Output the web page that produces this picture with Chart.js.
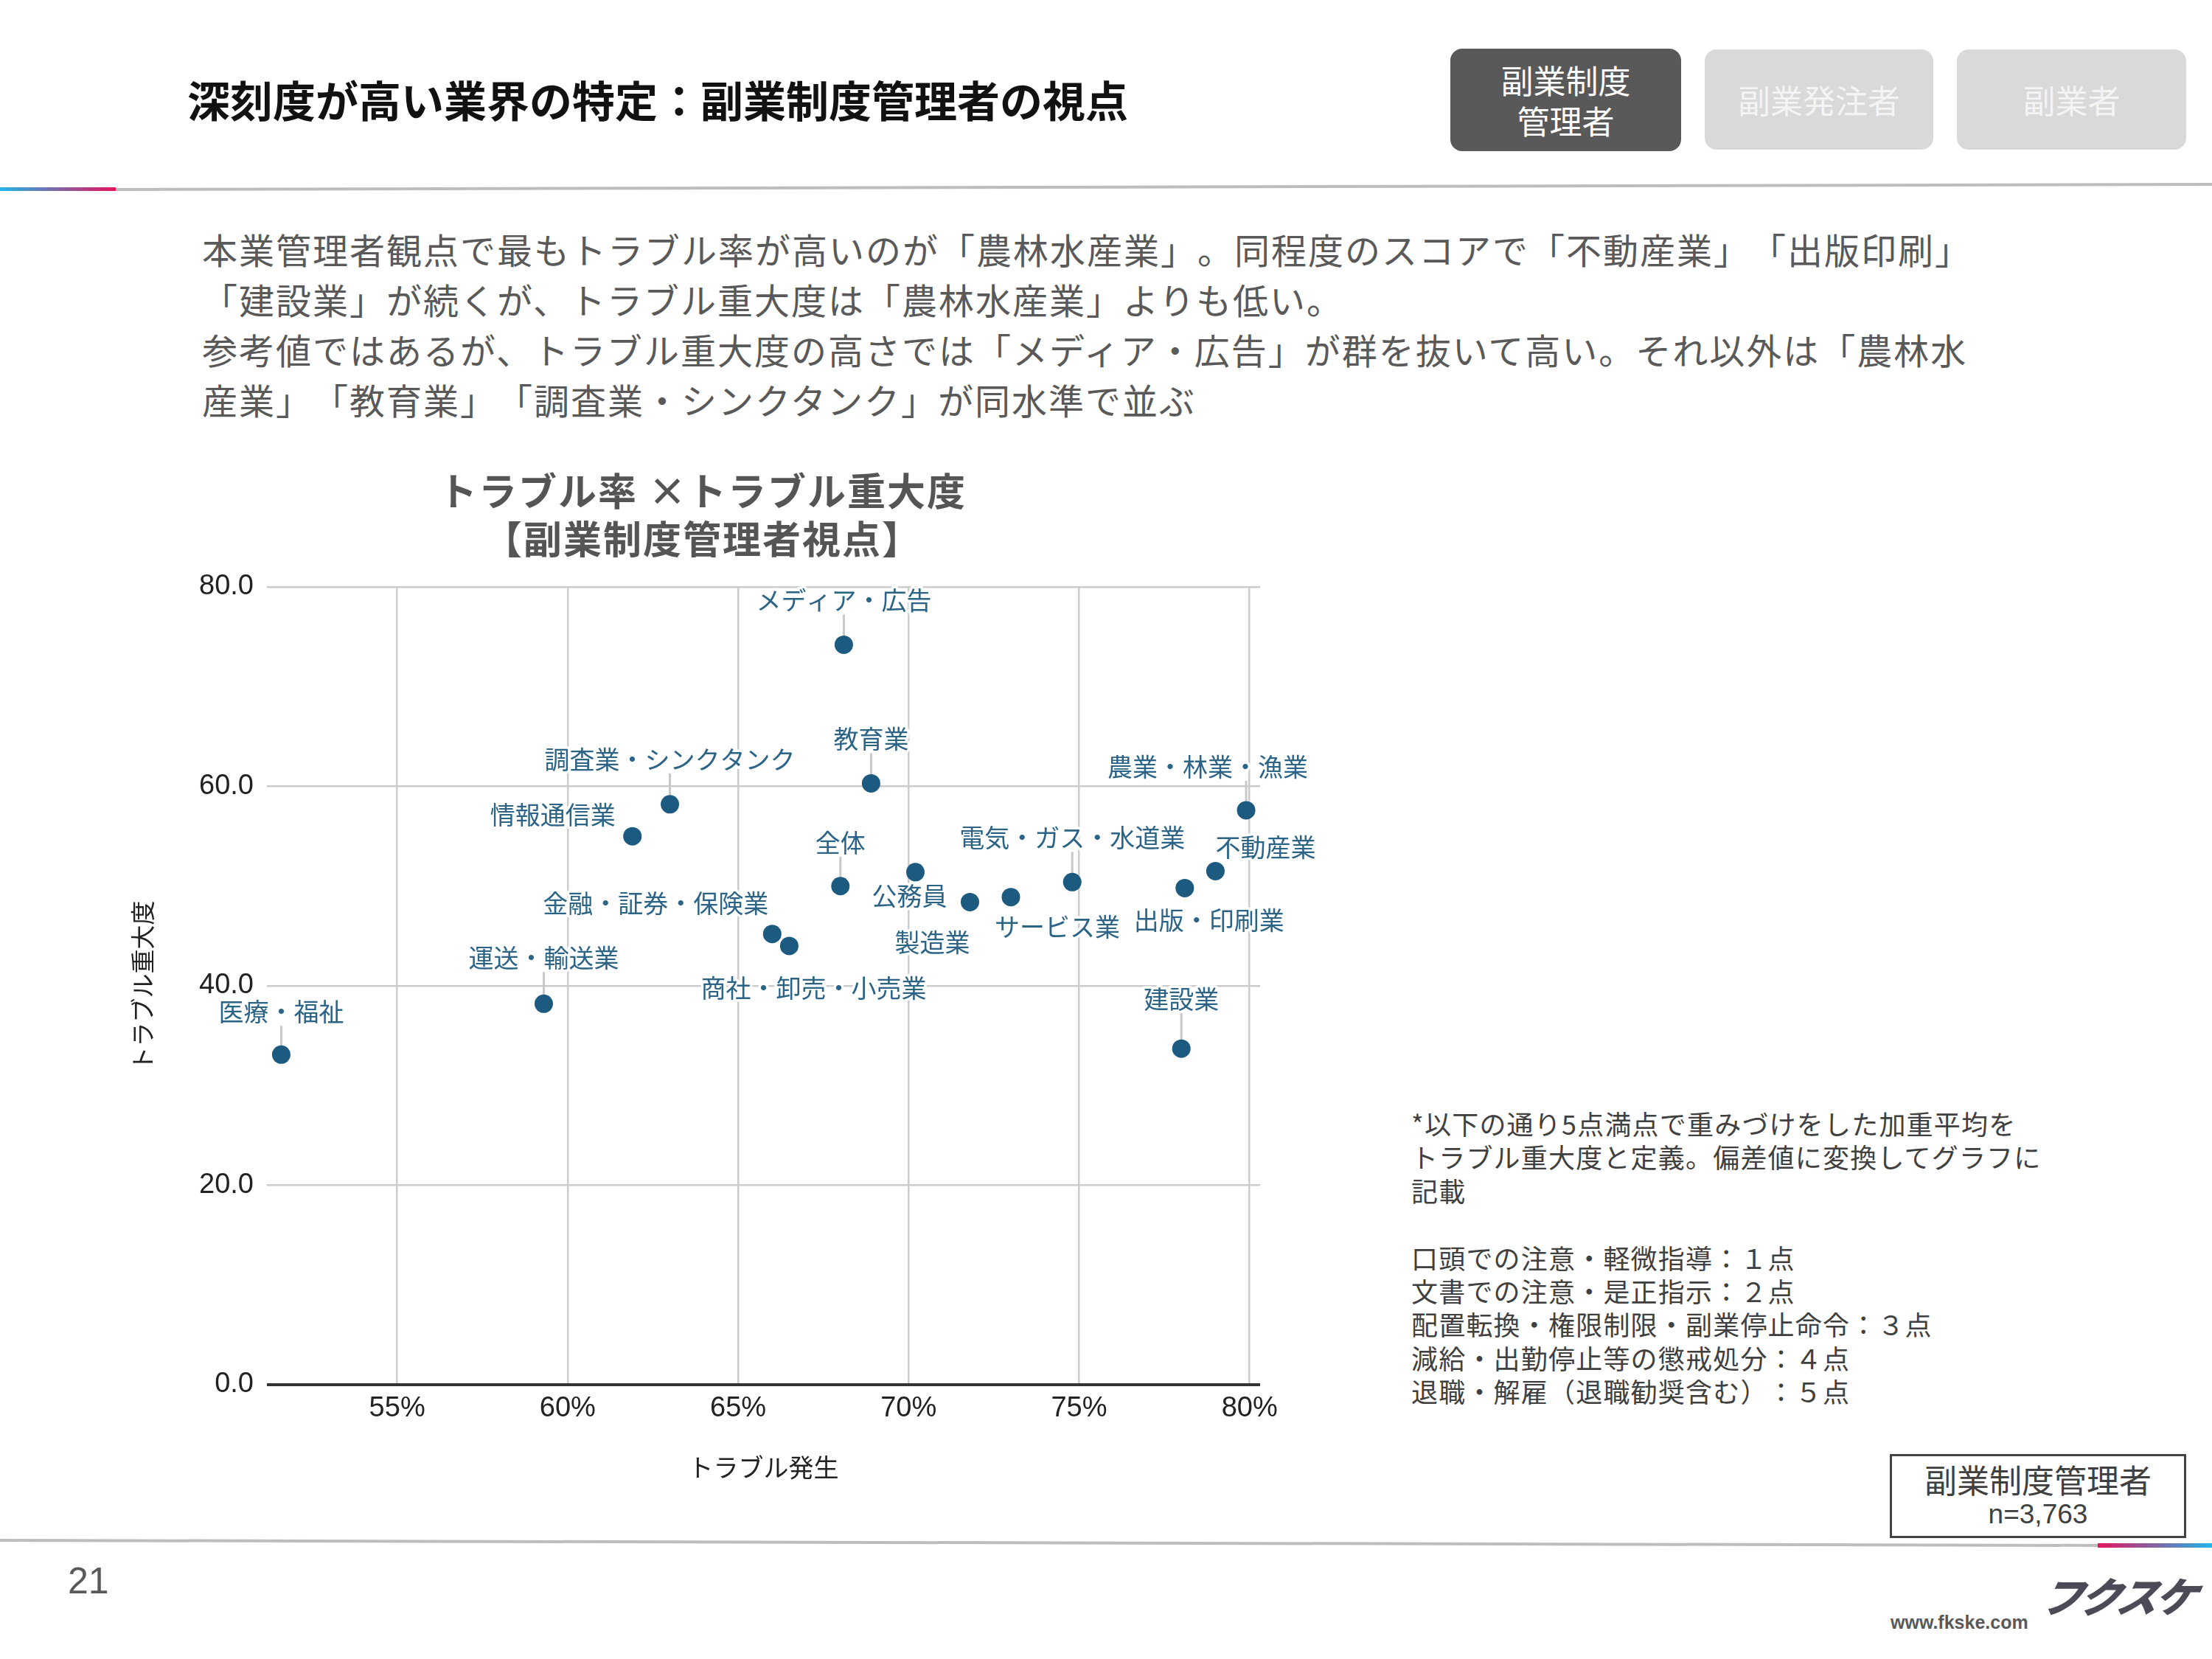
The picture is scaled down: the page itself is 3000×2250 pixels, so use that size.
<!DOCTYPE html>
<html><head><meta charset="utf-8">
<script src="https://cdn.jsdelivr.net/npm/chart.js@4.4.1/dist/chart.umd.min.js"></script>
<style>
html,body{margin:0;padding:0;background:#fff;}
body{width:3000px;height:2250px;position:relative;overflow:hidden;font-family:"Noto Sans CJK JP","Noto Sans",sans-serif;text-spacing-trim:space-all;}
.abs{position:absolute;white-space:nowrap;}
.tab{position:absolute;border-radius:16px;display:flex;flex-direction:column;align-items:center;justify-content:center;font-size:44px;line-height:55px;}
#title{left:254px;top:100px;font-size:58px;font-weight:700;color:#111;line-height:68px;}
#body{left:274px;top:303px;font-size:48px;letter-spacing:2px;line-height:68px;color:#595959;}
#ctitle{left:453px;top:631px;width:1000px;text-align:center;font-size:52px;letter-spacing:2px;font-weight:700;line-height:65px;color:#555;}
#note{left:1914px;top:1501px;font-size:36px;letter-spacing:1.2px;line-height:45.4px;color:#404040;}
#box{left:2563px;top:1972px;width:396px;height:108px;border:3px solid #444;text-align:center;color:#404040;}
#chartwrap{left:150px;top:700px;width:1650px;height:1330px;}
</style></head><body>
<svg class="abs" style="left:0;top:0" width="3000" height="2250">
  <defs>
    <linearGradient id="g1" x1="0" x2="1" y1="0" y2="0"><stop offset="0" stop-color="#1fb6e9"/><stop offset="1" stop-color="#e5135e"/></linearGradient>
    <linearGradient id="g2" x1="0" x2="1" y1="0" y2="0"><stop offset="0" stop-color="#e5135e"/><stop offset="1" stop-color="#1fb6e9"/></linearGradient>
  </defs>
  <polygon points="157,255 3000,248 3000,252 157,259" fill="#bdbdbd"/>
  <rect x="0" y="254" width="157" height="5" fill="url(#g1)"/>
  <polygon points="0,2087 2845,2094 2845,2098 0,2091" fill="#bdbdbd"/>
  <rect x="2845" y="2093" width="155" height="6" fill="url(#g2)"/>
</svg>
<div id="title" class="abs">深刻度が高い業界の特定：副業制度管理者の視点</div>
<div class="tab" style="left:1967px;top:66px;width:313px;height:139px;background:#595959;color:#fff;"><div>副業制度</div><div>管理者</div></div>
<div class="tab" style="left:2312px;top:67px;width:310px;height:136px;background:#d9d9d9;color:#f4f4f4;"><div>副業発注者</div></div>
<div class="tab" style="left:2654px;top:67px;width:311px;height:136px;background:#d9d9d9;color:#f4f4f4;"><div>副業者</div></div>
<div id="body" class="abs">本業管理者観点で最もトラブル率が高いのが「農林水産業」。同程度のスコアで「不動産業」「出版印刷」<br>「建設業」が続くが、トラブル重大度は「農林水産業」よりも低い。<br>参考値ではあるが、トラブル重大度の高さでは「メディア・広告」が群を抜いて高い。それ以外は「農林水<br>産業」「教育業」「調査業・シンクタンク」が同水準で並ぶ</div>
<div id="ctitle" class="abs">トラブル率 ×トラブル重大度<br>【副業制度管理者視点】</div>
<div id="chartwrap" class="abs"><canvas id="c" width="1650" height="1330"></canvas></div>
<div id="note" class="abs">*以下の通り5点満点で重みづけをした加重平均を<br>トラブル重大度と定義。偏差値に変換してグラフに<br>記載<br><br>口頭での注意・軽微指導：１点<br>文書での注意・是正指示：２点<br>配置転換・権限制限・副業停止命令：３点<br>減給・出勤停止等の懲戒処分：４点<br>退職・解雇（退職勧奨含む）：５点</div>
<div id="box" class="abs"><div style="font-size:44px;line-height:50px;margin-top:6px;">副業制度管理者</div><div style="font-family:'Liberation Sans',Arial,sans-serif;font-size:37px;line-height:46px;">n=3,763</div></div>
<div class="abs" style="left:92px;top:2114px;font-family:'Liberation Sans',Arial,sans-serif;font-size:50px;line-height:60px;color:#595959;">21</div>
<div class="abs" style="left:2770px;top:2128px;font-size:56px;font-weight:900;font-style:italic;line-height:70px;color:#4a4b57;transform:skewX(-12deg);letter-spacing:-4px;">フクスケ</div>
<div class="abs" style="left:2564px;top:2184px;font-family:'Liberation Sans',Arial,sans-serif;font-size:25px;font-weight:700;line-height:32px;color:#595959;">www.fkske.com</div>
<script>
const categories = ['医療・福祉','運送・輸送業','金融・証券・保険業','商社・卸売・小売業','情報通信業','調査業・シンクタンク','メディア・広告','教育業','全体','公務員','製造業','サービス業','電気・ガス・水道業','出版・印刷業','不動産業','農業・林業・漁業','建設業'];
const troubleRate = [51.6, 59.3, 66.0, 66.5, 61.9, 63.0, 68.1, 68.9, 68.0, 70.2, 71.8, 73.0, 74.8, 78.1, 79.0, 79.9, 78.0];
const severity = [33.1, 38.2, 45.2, 44.0, 55.0, 58.2, 74.2, 60.3, 50.0, 51.4, 48.4, 48.9, 50.4, 49.8, 51.5, 57.6, 33.7];
const xTickValues = [55, 60, 65, 70, 75, 80];
const yTickValues = [0, 20, 40, 60, 80];
// label placement (style): [dx, dy, leader line]
const labelOffsets = [[0,-58,1],[0,-62,1],[-158,-42,0],[33,57,0],[-108,-29,0],[0,-61,1],[0,-60,1],[0,-60,1],[0,-59,1],[-8,32,0],[-51,55,0],[63,40,0],[0,-60,1],[33,44,0],[68,-32,0],[-52,-59,1],[0,-67,1]];

const POINT_COLOR = '#1c5b7f';
const LABEL_COLOR = '#2b6486';

const labelPlugin = {
  id: 'pointLabels',
  beforeDatasetsDraw(chart) {
    const ctx = chart.ctx;
    const meta = chart.getDatasetMeta(0);
    ctx.save();
    ctx.strokeStyle = '#c8c8c8';
    ctx.lineWidth = 3;
    meta.data.forEach((pt, i) => {
      const o = labelOffsets[i];
      if (!o[2]) return;
      ctx.beginPath();
      ctx.moveTo(pt.x, pt.y - 12);
      ctx.lineTo(pt.x, pt.y + o[1] + 19);
      ctx.stroke();
    });
    ctx.restore();
  },
  afterDatasetsDraw(chart) {
    const ctx = chart.ctx;
    const meta = chart.getDatasetMeta(0);
    ctx.save();
    ctx.font = '400 34px "Noto Sans CJK JP"';
    ctx.textAlign = 'center';
    ctx.textBaseline = 'middle';
    ctx.lineJoin = 'round';
    meta.data.forEach((pt, i) => {
      const o = labelOffsets[i];
      const lx = pt.x + o[0], ly = pt.y + o[1];
      ctx.lineWidth = 7;
      ctx.strokeStyle = '#ffffff';
      ctx.strokeText(categories[i], lx, ly);
      ctx.fillStyle = LABEL_COLOR;
      ctx.fillText(categories[i], lx, ly);
    });
    ctx.restore();
  }
};

const tickFont = {family: '"Liberation Sans", Arial, sans-serif', size: 38};

new Chart(document.getElementById('c'), {
  type: 'scatter',
  data: {
    datasets: [{
      data: categories.map((c, i) => ({x: troubleRate[i], y: severity[i]})),
      pointRadius: 12.5,
      pointHoverRadius: 12.5,
      pointBackgroundColor: POINT_COLOR,
      pointBorderWidth: 0,
      clip: false
    }]
  },
  options: {
    responsive: false,
    devicePixelRatio: 1,
    animation: false,
    layout: {padding: {top: 96, right: 91, left: 0, bottom: 0}},
    plugins: {legend: {display: false}, tooltip: {enabled: false}},
    scales: {
      x: {
        type: 'linear',
        min: 51.18,
        max: 80.31,
        afterBuildTicks: s => { s.ticks = xTickValues.map(v => ({value: v})); },
        afterFit: s => { s.height = 152; },
        ticks: {callback: v => v + '%', font: tickFont, color: '#222', padding: 10, maxRotation: 0, autoSkip: false},
        grid: {color: '#cccccc', lineWidth: 2.5, drawTicks: false},
        border: {display: false},
        title: {display: true, text: 'トラブル発生', font: {family: '"Noto Sans CJK JP"', size: 34}, color: '#222', padding: {top: 0, bottom: 20}}
      },
      y: {
        min: 0,
        max: 80,
        afterBuildTicks: s => { s.ticks = yTickValues.map(v => ({value: v})); },
        afterFit: s => { s.width = 212; },
        ticks: {callback: v => Number(v).toFixed(1), font: tickFont, color: '#222', padding: 18},
        grid: {
          color: c => (c.tick && c.tick.value === 0) ? '#333333' : '#cccccc',
          lineWidth: c => (c.tick && c.tick.value === 0) ? 4 : 2.5,
          drawTicks: false
        },
        border: {display: false},
        title: {display: true, text: 'トラブル重大度', font: {family: '"Noto Sans CJK JP"', size: 33}, color: '#222', padding: {top: 24, bottom: 0}}
      }
    }
  },
  plugins: [labelPlugin]
});
</script>
</body></html>
